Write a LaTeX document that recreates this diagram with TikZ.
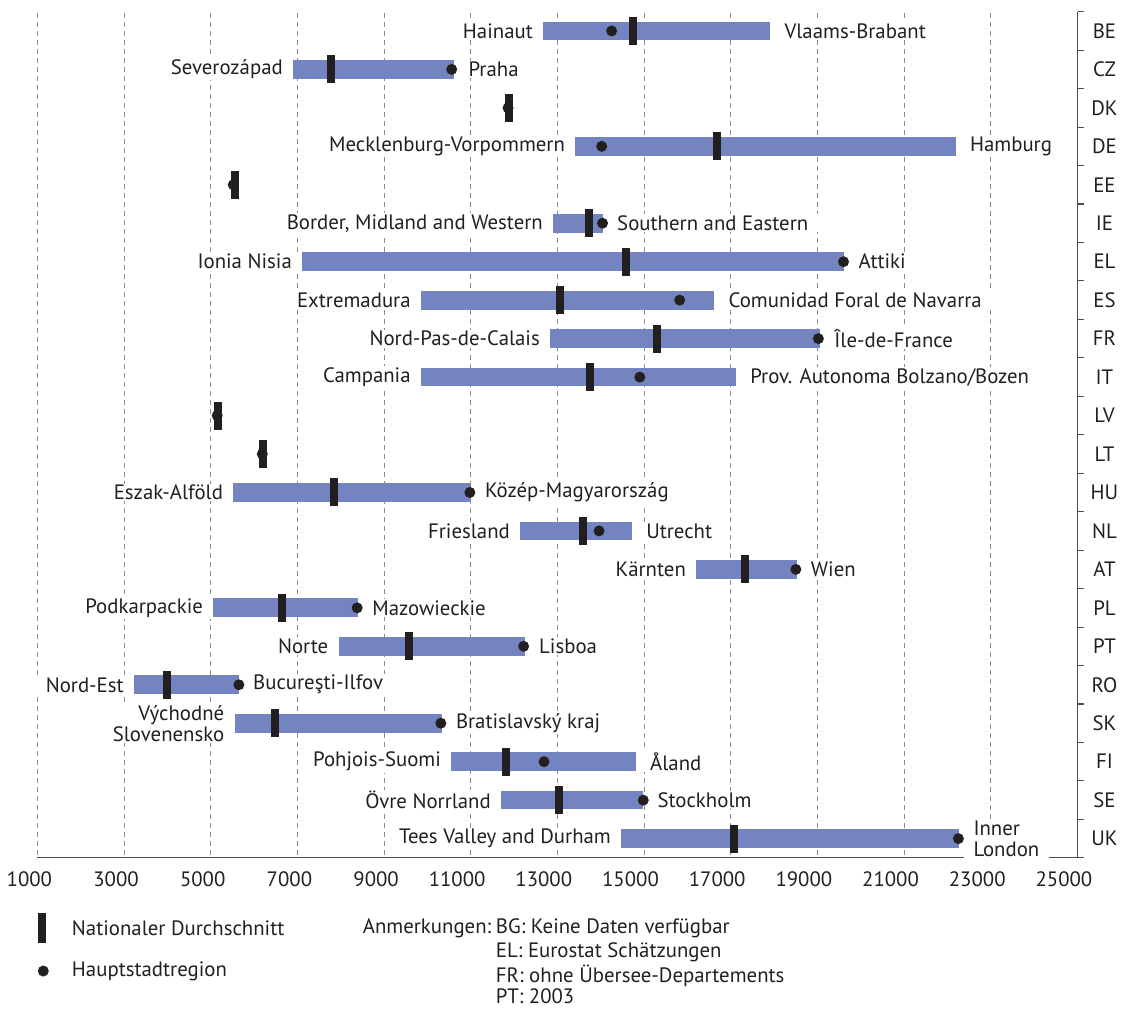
\documentclass[tikz,border=0pt]{standalone}
\usepackage{fontspec}
\setmainfont{PT Sans}
\definecolor{barblue}{RGB}{116,132,192}
\definecolor{markblack}{RGB}{35,31,32}
\definecolor{gridgray}{RGB}{140,140,140}
\definecolor{axisgray}{RGB}{77,77,77}

\begin{document}
\begin{tikzpicture}[x=0.025cm, y=-0.025cm,
    every node/.style={font=\fontsize{14.8}{15}\selectfont, text=markblack},
    bar/.style={draw=barblue, line width=0.4675cm},
    navg/.style={fill=markblack, minimum width=0.2cm, minimum height=0.7cm, inner sep=0pt},
    capdot/.style={circle, fill=markblack, minimum size=0.275cm, inner sep=0pt},
    regl/.style={anchor=east, fill=white, inner xsep=0.25cm, inner ysep=1pt, align=right},
    regr/.style={anchor=west, fill=white, inner xsep=0.25cm, inner ysep=1pt, align=left, xshift=0.1cm},
    gridline/.style={gridgray, dash pattern=on 0.125cm off 0.1cm, line width=0.6pt},
    axis/.style={axisgray, line width=0.8pt}]
\useasboundingbox (0,0) rectangle (1130,1008);

\begin{scope}[x=1.08333cm, y=-0.96125cm, xshift=-0.15083cm, yshift=-0.7731cm]
    \foreach \k in {1,3,...,23}
        \draw[gridline] (\k,-0.47) -- (\k,21.5);
    \foreach \k in {1,3,...,25}
        \node[anchor=base east, inner sep=0pt, xshift=0.375cm, yshift=-0.71cm] (tick\k) at (\k,21.5) {\k000};
    \draw[axis] (1,21.5) -- (25,21.5);
    \draw[axis] (25,-0.5) -- (25,21.5);
    \foreach \j in {-0.5,0.5,...,21.5}
        \draw[axis] (25,\j) -- ++(0.16cm,0);
    \foreach \c [count=\i from 0] in {BE,CZ,DK,DE,EE,IE,EL,ES,FR,IT,LV,LT,HU,NL,AT,PL,PT,RO,SK,FI,SE,UK}
        \node (\c) at (25.62,\i) {\c};

    \draw[bar] (12.67,0) -- (17.91,0);
    \node[regl] (BEl) at (12.67,0) {Hainaut};
    \node[regr] (BEr) at (17.91,0) {Vlaams-Brabant};
    \node[capdot] (BEc) at (14.25,0) {};
    \node[navg] (BEn) at (14.75,0) {};

    \draw[bar] (6.90,1) -- (10.62,1);
    \node[regl] (CZl) at (6.90,1) {Severozápad};
    \node[regr] (CZr) at (10.62,1) {Praha};
    \node[capdot] (CZc) at (10.56,1) {};
    \node[navg] (CZn) at (7.77,1) {};

    \node[capdot] (DKc) at (11.86,2) {};
    \node[navg] (DKn) at (11.89,2) {};

    \draw[bar] (13.41,3) -- (22.19,3);
    \node[regl] (DEl) at (13.41,3) {Mecklenburg-Vorpommern};
    \node[regr] (DEr) at (22.19,3) {Hamburg};
    \node[capdot] (DEc) at (14.02,3) {};
    \node[navg] (DEn) at (16.69,3) {};

    \node[capdot] (EEc) at (5.52,4) {};
    \node[navg] (EEn) at (5.55,4) {};

    \draw[bar] (12.90,5) -- (14.05,5);
    \node[regl] (IEl) at (12.90,5) {Border, Midland and Western};
    \node[regr] (IEr) at (14.05,5) {Southern and Eastern};
    \node[capdot] (IEc) at (14.04,5) {};
    \node[navg] (IEn) at (13.73,5) {};

    \draw[bar] (7.11,6) -- (19.62,6);
    \node[regl] (ELl) at (7.11,6) {Ionia Nisia};
    \node[regr] (ELr) at (19.62,6) {Attiki};
    \node[capdot] (ELc) at (19.60,6) {};
    \node[navg] (ELn) at (14.59,6) {};

    \draw[bar] (9.85,7) -- (16.62,7);
    \node[regl] (ESl) at (9.85,7) {Extremadura};
    \node[regr] (ESr) at (16.62,7) {Comunidad Foral de Navarra};
    \node[capdot] (ESc) at (15.82,7) {};
    \node[navg] (ESn) at (13.06,7) {};

    \draw[bar] (12.83,8) -- (19.06,8);
    \node[regl] (FRl) at (12.83,8) {Nord-Pas-de-Calais};
    \node[regr] (FRr) at (19.06,8) {Île-de-France};
    \node[capdot] (FRc) at (19.02,8) {};
    \node[navg] (FRn) at (15.30,8) {};

    \draw[bar] (9.85,9) -- (17.12,9);
    \node[regl] (ITl) at (9.85,9) {Campania};
    \node[regr] (ITr) at (17.12,9) {Prov. Autonoma Bolzano/Bozen};
    \node[capdot] (ITc) at (14.90,9) {};
    \node[navg] (ITn) at (13.75,9) {};

    \node[capdot] (LVc) at (5.15,10) {};
    \node[navg] (LVn) at (5.17,10) {};

    \node[capdot] (LTc) at (6.19,11) {};
    \node[navg] (LTn) at (6.21,11) {};

    \draw[bar] (5.52,12) -- (11.00,12);
    \node[regl] (HUl) at (5.52,12) {Eszak-Alföld};
    \node[regr] (HUr) at (11.00,12) {Közép-Magyarország};
    \node[capdot] (HUc) at (10.98,12) {};
    \node[navg] (HUn) at (7.84,12) {};

    \draw[bar] (12.14,13) -- (14.72,13);
    \node[regl] (NLl) at (12.14,13) {Friesland};
    \node[regr] (NLr) at (14.72,13) {Utrecht};
    \node[capdot] (NLc) at (13.96,13) {};
    \node[navg] (NLn) at (13.59,13) {};

    \draw[bar] (16.20,14) -- (18.52,14);
    \node[regl] (ATl) at (16.20,14) {Kärnten};
    \node[regr] (ATr) at (18.52,14) {Wien};
    \node[capdot] (ATc) at (18.50,14) {};
    \node[navg] (ATn) at (17.33,14) {};

    \draw[bar] (5.06,15) -- (8.40,15);
    \node[regl] (PLl) at (5.06,15) {Podkarpackie};
    \node[regr] (PLr) at (8.40,15) {Mazowieckie};
    \node[capdot] (PLc) at (8.38,15) {};
    \node[navg] (PLn) at (6.64,15) {};

    \draw[bar] (7.95,16) -- (12.25,16);
    \node[regl] (PTl) at (7.95,16) {Norte};
    \node[regr] (PTr) at (12.25,16) {Lisboa};
    \node[capdot] (PTc) at (12.22,16) {};
    \node[navg] (PTn) at (9.58,16) {};

    \draw[bar] (3.23,17) -- (5.65,17);
    \node[regl] (ROl) at (3.23,17) {Nord-Est};
    \node[regr] (ROr) at (5.65,17) {Bucureşti-Ilfov};
    \node[capdot] (ROc) at (5.65,17) {};
    \node[navg] (ROn) at (3.99,17) {};

    \draw[bar] (5.55,18) -- (10.33,18);
    \node[regl] (SKl) at (5.55,18) {Východné\\Slovenensko};
    \node[regr] (SKr) at (10.33,18) {Bratislavský kraj};
    \node[capdot] (SKc) at (10.31,18) {};
    \node[navg] (SKn) at (6.49,18) {};

    \draw[bar] (10.55,19) -- (14.81,19);
    \node[regl] (FIl) at (10.55,19) {Pohjois-Suomi};
    \node[regr] (FIr) at (14.81,19) {Åland};
    \node[capdot] (FIc) at (12.69,19) {};
    \node[navg] (FIn) at (11.82,19) {};

    \draw[bar] (11.70,20) -- (14.98,20);
    \node[regl] (SEl) at (11.70,20) {Övre Norrland};
    \node[regr] (SEr) at (14.98,20) {Stockholm};
    \node[capdot] (SEc) at (14.98,20) {};
    \node[navg] (SEn) at (13.04,20) {};

    \draw[bar] (14.47,21) -- (22.27,21);
    \node[regl] (UKl) at (14.47,21) {Tees Valley and Durham};
    \node[regr] (UKr) at (22.27,21) {Inner\\London};
    \node[capdot] (UKc) at (22.25,21) {};
    \node[navg] (UKn) at (17.08,21) {};
\end{scope}

\node[navg, minimum height=0.75cm] (legavg) at (41.7,928.3) {};
\node[capdot] (legcap) at (43.3,971) {};
\node[anchor=west, inner sep=0pt] (legavgtxt) at (71.7,928) {Nationaler Durchschnitt};
\node[anchor=west, inner sep=0pt] (legcaptxt) at (71.7,971) {Hauptstadtregion};

\node[anchor=base east, inner sep=0pt] (notes) at (491.5,933) {Anmerkungen:};
\node[anchor=base west, inner sep=0pt] (noteBG) at (495.7,933) {BG: Keine Daten verfügbar};
\node[anchor=base west, inner sep=0pt] (noteEL) at (495.7,957.5) {EL: Eurostat Schätzungen};
\node[anchor=base west, inner sep=0pt] (noteFR) at (495.7,982) {FR: ohne Übersee-Departements};
\node[anchor=base west, inner sep=0pt] (notePT) at (495.7,1003) {PT: 2003};
\end{tikzpicture}
\end{document}
